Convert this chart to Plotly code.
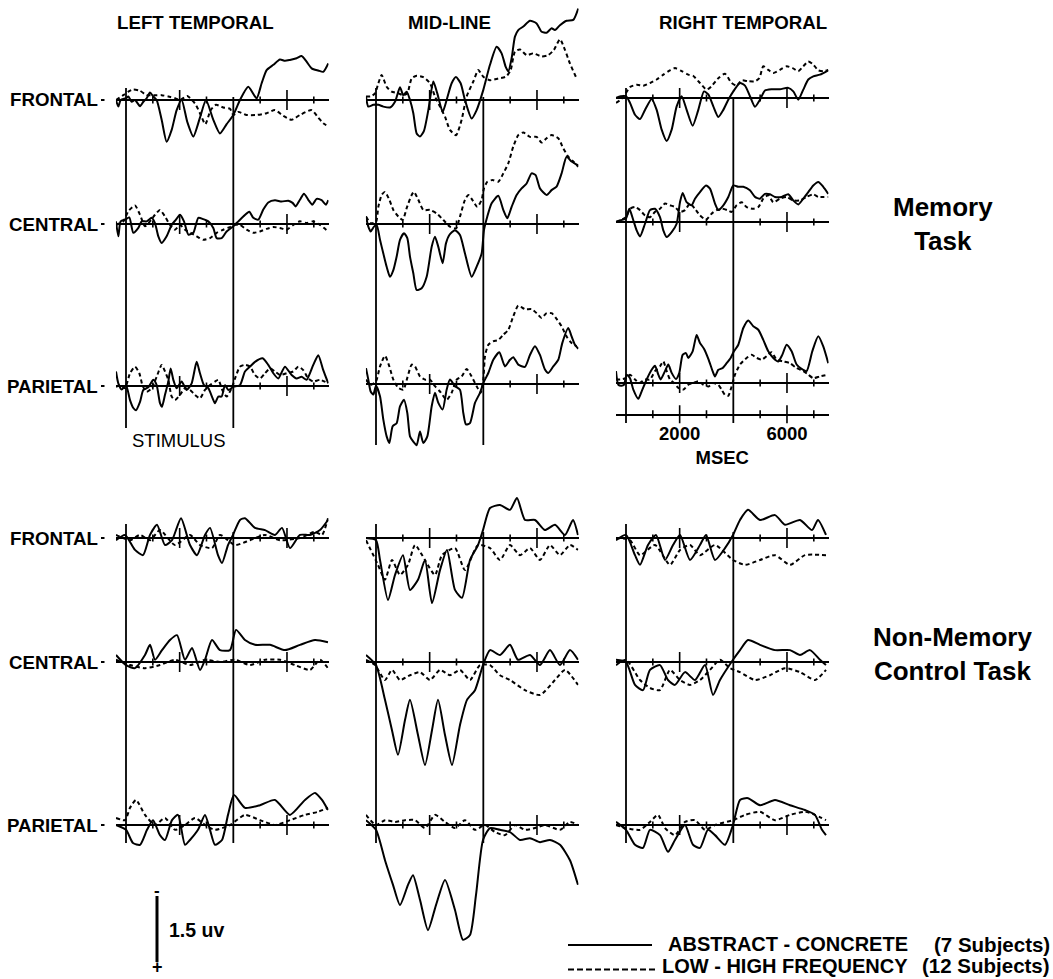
import plotly.graph_objects as go

# ---------------------------------------------------------------------------
# Figure geometry
# ---------------------------------------------------------------------------
W, H = 1053, 979
PX_PER_UV = 44.0          # vertical scale of every panel (negative up)
PX_PER_MS = 0.02683       # horizontal scale of every panel
T_MIN, T_MAX = -375, 7550
FONT = "Liberation Sans, Arial, sans-serif"

COLUMN_TITLES = ["LEFT TEMPORAL", "MID-LINE", "RIGHT TEMPORAL"]
SITE_LABELS = ["FRONTAL", "CENTRAL", "PARIETAL"]
TASK_LABELS = ["Memory<br>Task", "Non-Memory<br>Control Task"]
MAJOR_TICKS_MS = [2000, 6000]
MINOR_TICKS_MS = [1000, 3000, 5000, 7000]
EVENT_MS = [0, 4000]
SCALE_UV = 1.5
LEGEND_NAMES = ["ABSTRACT - CONCRETE", "LOW - HIGH FREQUENCY"]
LEGEND_N = ["(7 Subjects)", "(12 Subjects)"]

# ---------------------------------------------------------------------------
# Difference waveforms, (msec, microvolts).  AC = abstract - concrete,
# LH = low - high frequency.
# ---------------------------------------------------------------------------
MEM_LT_F_AC = [(-373,0),(-286,.15),(-199,0),(0,-.04),(87,-.08),(211,.04),(335,0),(522,.14),(646,.04),(770,-.04),(894,-.17),(1018,-.08),(1143,0),(1329,.45),(1515,.95),(1702,.68),(1888,.23),(2074,0),(2285,.5),(2509,.83),(2757,.4),(2981,0),(3254,.45),(3502,.76),(3751,.55),(4000,.34),(4248,0),(4558,-.3),(4869,-.04),(5055,-.38),(5241,-.68),(5490,-.8),(5738,-.92),(5924,-.89),(6110,-.91),(6359,-.95),(6545,-1.0),(6731,-.87),(6918,-.72),(7166,-.67),(7352,-.64),(7539,-.83)]
MEM_LT_F_LH = [(-373,0),(-99,-.11),(87,-.19),(273,-.24),(522,-.21),(770,-.11),(1080,-.11),(1329,-.11),(1577,-.08),(1826,-.04),(2012,0),(2285,-.09),(2571,.08),(2757,.3),(2956,.55),(3155,.23),(3353,.11),(3627,.17),(3875,.2),(4000,.34),(4186,.27),(4496,.34),(4869,.34),(5241,.3),(5552,.23),(5862,.36),(6173,.45),(6483,.34),(6918,.23),(7166,.4),(7352,.53),(7539,.6)]
MEM_ML_F_AC = [(-373,-.08),(-286,.15),(-99,.11),(87,.11),(273,.15),(522,.17),(708,.04),(894,-.29),(1018,-.11),(1143,-.19),(1267,0),(1391,.3),(1515,.76),(1639,.83),(1788,.7),(1950,.23),(2136,-.42),(2285,-.15),(2484,.27),(2633,0),(2819,-.38),(2981,-.52),(3155,-.38),(3316,0),(3565,.42),(3751,.23),(4000,-.23),(4248,-.8),(4496,-1.21),(4682,-1.06),(4831,-.76),(4931,-.65),(5055,-.95),(5179,-1.44),(5303,-1.59),(5490,-1.67),(5738,-1.8),(5986,-1.74),(6173,-1.55),(6359,-1.53),(6545,-1.63),(6669,-1.59),(6856,-1.7),(7104,-1.8),(7352,-1.82),(7539,-2.08)]
MEM_ML_F_LH = [(-373,-.08),(-199,-.08),(-37,-.15),(87,-.38),(211,-.57),(397,-.3),(584,-.19),(832,-.15),(1018,-.11),(1167,-.15),(1329,-.49),(1515,-.55),(1764,-.52),(2012,-.38),(2198,-.08),(2385,.15),(2571,.38),(2757,.68),(2981,.8),(3192,.45),(3378,-.08),(3627,-.42),(3813,-.68),(4000,-.53),(4248,-.45),(4558,-.49),(4844,-.53),(5018,-.68),(5179,-1.1),(5365,-1.15),(5614,-1.02),(5862,-1.06),(6173,-.99),(6421,-1.02),(6632,-1.14),(6856,-1.38),(7042,-1.14),(7228,-.83),(7477,-.49)]
MEM_RT_F_AC = [(-373,0),(-199,-.04),(0,-.04),(149,.11),(335,.38),(522,.48),(708,.27),(956,.02),(1143,.27),(1329,.72),(1515,.98),(1702,.72),(1888,.19),(2074,-.04),(2260,.27),(2484,.63),(2695,.27),(2906,-.15),(3068,-.08),(3254,.19),(3440,.43),(3627,.27),(3813,.04),(4000,-.15),(4248,-.34),(4434,-.28),(4620,-.04),(4807,.2),(4993,.04),(5179,-.17),(5427,-.2),(5738,-.2),(6048,-.23),(6235,-.15),(6421,.04),(6607,-.19),(6794,-.42),(6980,-.49),(7228,-.53),(7539,-.63)]
MEM_RT_F_LH = [(-373,.11),(-199,.04),(-37,-.08),(149,-.25),(397,-.3),(646,-.28),(894,-.34),(1143,-.42),(1391,-.53),(1639,-.63),(1826,-.68),(2074,-.61),(2323,-.53),(2509,-.5),(2757,-.34),(3006,-.19),(3192,-.27),(3440,-.45),(3689,-.55),(3937,-.34),(4123,-.28),(4310,-.4),(4558,-.38),(4807,-.38),(4968,-.45),(5117,-.72),(5303,-.64),(5490,-.57),(5738,-.64),(5986,-.72),(6210,-.68),(6421,-.61),(6607,-.72),(6794,-.83),(6980,-.76),(7166,-.63),(7352,-.61),(7539,-.64)]

MEM_LT_C_AC = [(-373,-.06),(-286,.28),(-199,-.06),(0,-.11),(124,-.15),(273,.2),(460,.09),(584,-.06),(770,-.06),(956,-.14),(1080,-.02),(1205,.28),(1329,.43),(1515,.28),(1702,.02),(1863,-.1),(2012,-.21),(2161,-.06),(2323,.24),(2509,.2),(2695,-.14),(2881,-.11),(3068,-.06),(3254,.09),(3378,.32),(3565,.32),(3751,.17),(4000,.05),(4186,-.06),(4372,-.17),(4595,-.28),(4744,-.14),(4931,-.1),(5117,-.33),(5303,-.49),(5552,-.54),(5800,-.51),(6048,-.53),(6210,-.48),(6322,-.4),(6483,-.55),(6632,-.69),(6794,-.55),(6943,-.44),(7104,-.57),(7290,-.54),(7452,-.44),(7539,-.54)]
MEM_LT_C_LH = [(-373,.02),(-99,-.06),(87,-.29),(335,-.42),(522,-.21),(708,.05),(894,-.06),(1080,-.21),(1267,-.32),(1453,-.17),(1639,.02),(1826,.13),(2012,.02),(2198,.13),(2409,.2),(2633,.28),(2881,.36),(3130,.32),(3378,.2),(3627,.13),(3875,.07),(4062,.02),(4248,.02),(4496,.13),(4744,.2),(4993,.17),(5241,.11),(5490,.07),(5738,.09),(5986,.13),(6235,.02),(6483,-.06),(6731,-.02),(6980,-.06),(7228,.02),(7539,.17)]
MEM_ML_C_AC = [(-373,-.17),(-286,.06),(-199,.17),(-75,.06),(25,.02),(149,.36),(273,.67),(397,.97),(522,1.2),(646,1.05),(770,.74),(894,.36),(1043,.21),(1167,.32),(1267,.74),(1391,1.12),(1515,1.5),(1702,1.46),(1888,1.2),(2074,.52),(2198,.29),(2323,.52),(2484,.89),(2608,.44),(2733,.25),(2943,.14),(3130,.25),(3316,.67),(3565,1.2),(3751,.97),(3937,.67),(4024,.14),(4149,-.17),(4310,-.47),(4558,-.64),(4744,-.32),(4893,-.13),(5055,-.39),(5241,-.66),(5427,-.81),(5614,-.92),(5800,-1.15),(5949,-1.11),(6110,-.81),(6359,-.66),(6545,-.77),(6731,-.85),(6918,-1.15),(7104,-1.53),(7290,-1.42),(7539,-1.33)]
MEM_ML_C_LH = [(-373,-.17),(-199,-.02),(0,-.05),(87,-.39),(211,-.66),(335,-.73),(497,-.55),(646,-.32),(832,-.17),(994,-.09),(1143,-.36),(1329,-.66),(1416,-.73),(1577,-.55),(1764,-.32),(2012,-.32),(2260,-.24),(2509,-.09),(2757,.06),(2981,.1),(3130,-.17),(3316,-.55),(3440,-.66),(3589,-.55),(3776,-.39),(3937,-.55),(4024,-.81),(4149,-.96),(4348,-1.0),(4558,-.96),(4744,-1.15),(4931,-1.38),(5117,-1.76),(5303,-2.02),(5490,-2.08),(5738,-1.98),(5986,-1.98),(6173,-1.85),(6359,-1.95),(6545,-2.02),(6794,-1.95),(6980,-1.72),(7166,-1.53),(7352,-1.42),(7539,-1.3)]
MEM_RT_C_AC = [(-373,0),(-199,-.04),(0,-.08),(124,-.3),(273,-.04),(397,.19),(522,.33),(708,.04),(894,-.27),(1080,-.3),(1267,-.11),(1391,.19),(1515,.34),(1702,.23),(1888,.04),(2012,-.45),(2111,-.66),(2260,-.45),(2447,-.38),(2571,-.53),(2757,-.68),(2981,-.83),(3130,-.76),(3316,-.42),(3440,-.27),(3627,-.38),(3813,-.57),(4000,-.83),(4186,-.8),(4372,-.8),(4620,-.72),(4807,-.57),(4993,-.53),(5179,-.64),(5365,-.63),(5552,-.57),(5800,-.57),(6048,-.63),(6235,-.49),(6421,-.4),(6607,-.53),(6794,-.68),(6980,-.83),(7166,-.91),(7352,-.8),(7539,-.64)]
MEM_RT_C_LH = [(-373,0),(-199,-.04),(0,-.11),(149,-.3),(335,-.34),(522,-.27),(708,-.15),(894,-.11),(1080,-.23),(1267,-.3),(1453,-.42),(1639,-.38),(1826,-.34),(2012,-.23),(2198,-.27),(2385,-.42),(2571,-.3),(2757,-.15),(2981,-.05),(3192,-.19),(3378,-.27),(3589,-.3),(3776,-.27),(3937,-.23),(4123,-.38),(4310,-.45),(4496,-.34),(4744,-.3),(4931,-.34),(5117,-.53),(5303,-.61),(5490,-.45),(5738,-.53),(5986,-.57),(6235,-.49),(6483,-.49),(6731,-.57),(6980,-.63),(7166,-.57),(7539,-.57)]

MEM_LT_P_AC = [(-373,-.33),(-286,-.06),(-161,.08),(0,-.02),(149,.32),(273,.5),(373,.55),(522,.36),(646,.09),(832,.03),(1018,-.14),(1143,-.02),(1267,.39),(1341,.47),(1453,.2),(1577,-.1),(1664,-.4),(1764,-.14),(1888,.05),(2074,-.1),(2260,.09),(2447,-.06),(2633,-.55),(2757,-.29),(2906,-.02),(3068,.05),(3229,.28),(3316,.39),(3440,.24),(3565,.24),(3689,-.02),(3813,.09),(4000,.02),(4248,-.02),(4434,-.33),(4620,-.44),(4807,-.55),(5092,-.63),(5303,-.48),(5490,-.29),(5676,-.17),(5924,-.44),(6173,-.25),(6359,-.17),(6545,-.21),(6731,-.14),(6980,-.48),(7166,-.7),(7352,-.36),(7539,-.06)]
MEM_LT_P_LH = [(-373,.02),(-199,-.02),(-37,.05),(149,-.29),(335,-.44),(497,-.29),(621,0),(770,.13),(956,.05),(1143,-.21),(1329,-.48),(1453,-.33),(1577,-.14),(1702,.24),(1826,.32),(2012,.2),(2198,.05),(2385,.09),(2571,.2),(2757,.28),(2943,.09),(3130,-.02),(3316,-.1),(3440,-.14),(3589,.09),(3751,.24),(3937,.05),(4062,-.17),(4248,-.44),(4434,-.48),(4620,-.44),(4807,-.25),(4993,-.17),(5179,-.29),(5365,-.4),(5552,-.33),(5738,-.25),(5986,-.29),(6235,-.33),(6421,-.44),(6607,-.36),(6794,-.17),(6980,-.1),(7228,-.14),(7539,-.06)]
MEM_ML_P_AC = [(-373,-.36),(-286,-.1),(-199,.17),(-99,.24),(0,.04),(149,.28),(273,.81),(397,1.19),(497,1.34),(621,.96),(770,.89),(894,.51),(1043,.36),(1167,.66),(1267,1.19),(1391,1.31),(1515,1.39),(1639,1.08),(1764,1.34),(1913,1.19),(2074,.51),(2198,.2),(2323,.43),(2484,.58),(2633,.13),(2757,-.1),(2943,.05),(3130,.13),(3254,.66),(3353,.92),(3502,.89),(3689,.43),(3875,.2),(4000,-.02),(4186,-.25),(4372,-.55),(4595,-.72),(4807,-.4),(4993,-.55),(5117,-.61),(5303,-.44),(5552,-.39),(5738,-.66),(5924,-.86),(6110,-.66),(6297,-.33),(6421,-.25),(6607,-.4),(6794,-.55),(6943,-.93),(7166,-1.27),(7290,-1.08),(7414,-.89),(7539,-.8)]
MEM_ML_P_LH = [(-373,-.1),(-199,.02),(0,-.06),(149,-.4),(335,-.64),(497,-.4),(646,-.1),(832,.09),(1018,.13),(1167,-.14),(1329,-.44),(1453,-.4),(1639,-.17),(1826,-.1),(2012,-.1),(2198,.05),(2385,.17),(2633,.36),(2819,.2),(3006,-.1),(3192,-.17),(3378,-.34),(3565,-.17),(3751,.05),(3900,.2),(4000,-.1),(4062,-.63),(4186,-.89),(4372,-.97),(4558,-1.0),(4744,-1.12),(4931,-1.23),(5117,-1.54),(5303,-1.78),(5552,-1.7),(5800,-1.7),(5986,-1.61),(6173,-1.5),(6359,-1.61),(6545,-1.61),(6731,-1.48),(6918,-1.31),(7104,-1.08),(7290,-.93),(7477,-.86)]
MEM_RT_P_AC = [(-373,-.27),(-286,.04),(-161,.06),(-75,.04),(25,-.19),(149,-.11),(273,.15),(460,.36),(584,.19),(770,-.08),(956,-.3),(1080,-.39),(1205,-.19),(1292,-.08),(1453,-.27),(1577,-.42),(1702,-.23),(1863,-.09),(1987,-.23),(2111,-.64),(2236,-.68),(2323,-.57),(2484,-.72),(2633,-1.09),(2757,-.91),(2906,-.78),(3068,-.55),(3229,-.27),(3316,-.15),(3440,-.3),(3602,-.34),(3751,-.45),(3900,-.57),(4024,-.72),(4186,-.87),(4372,-1.25),(4558,-1.42),(4744,-1.29),(4931,-1.21),(5117,-.98),(5303,-.72),(5490,-.57),(5676,-.49),(5825,-.64),(5986,-.87),(6173,-.72),(6359,-.42),(6545,-.32),(6731,-.27),(6943,-.72),(7166,-1.06),(7352,-.83),(7539,-.45)]
MEM_RT_P_LH = [(-373,-.08),(-199,-.08),(0,-.11),(149,-.19),(335,-.08),(497,0),(708,-.08),(894,-.08),(1080,-.27),(1267,-.38),(1391,-.49),(1515,-.27),(1639,-.08),(1788,0),(1950,.11),(2136,.15),(2323,.04),(2509,0),(2695,-.04),(2881,.04),(3068,.08),(3254,0),(3440,.04),(3565,.15),(3689,.27),(3813,.29),(3937,.08),(4062,-.19),(4248,-.42),(4496,-.57),(4682,-.64),(4869,-.57),(5055,-.53),(5241,-.61),(5427,-.7),(5614,-.53),(5862,-.49),(6110,-.45),(6359,-.34),(6607,-.27),(6794,-.19),(6980,-.11),(7228,-.15),(7539,-.19)]

NM_LT_F_AC = [(-373,.05),(-37,-.07),(335,.27),(634,.39),(895,-.07),(1155,-.3),(1454,.16),(1714,.05),(2050,-.45),(2385,.16),(2646,.39),(2944,-.07),(3131,-.23),(3429,.39),(3578,.57),(3802,.16),(3988,-.07),(4249,-.41),(4435,-.45),(4808,-.23),(5181,-.18),(5553,-.07),(5814,-.23),(6112,.23),(6485,-.07),(6857,-.07),(7230,-.18),(7528,-.41)]
NM_LT_F_LH = [(-373,-.07),(149,.05),(522,-.07),(895,.05),(1267,-.18),(1826,.16),(2385,-.07),(2758,.16),(3205,.23),(3503,-.07),(4062,.16),(4622,.05),(5181,-.07),(5740,.05),(6485,0),(7044,-.14),(7305,-.07),(7528,-.45)]
NM_ML_F_AC = [(-373,0),(0,.05),(149,.5),(447,1.41),(708,.84),(1006,.39),(1267,1.18),(1565,.95),(1826,.5),(2087,1.48),(2385,.73),(2646,.27),(2944,1.18),(3205,1.36),(3503,.5),(3802,.16),(3988,-.18),(4249,-.68),(4621,-.75),(4994,-.64),(5255,-.91),(5553,-.41),(5926,-.41),(6299,-.18),(6672,-.3),(7044,-.07),(7342,-.41),(7528,-.07)]
NM_ML_F_LH = [(-373,.05),(75,.61),(335,.95),(596,.5),(894,.84),(1193,.61),(1454,.16),(1826,.5),(2199,.84),(2460,.39),(2944,.23),(3317,.73),(3802,.16),(4249,.23),(4621,.5),(4994,.16),(5367,.39),(5740,.23),(6112,.5),(6485,.16),(6858,.39),(7230,.16),(7528,.27)]
NM_RT_F_AC = [(-373,.05),(0,-.07),(335,.39),(522,.61),(820,.16),(1118,-.07),(1454,.5),(1752,.16),(2013,-.07),(2385,.5),(2758,.16),(2982,-.07),(3317,.5),(3690,.23),(3988,-.07),(4249,-.41),(4547,-.64),(4994,-.41),(5553,-.52),(5926,-.3),(6485,-.41),(6932,-.18),(7156,-.41),(7454,-.07)]
NM_RT_F_LH = [(-373,0),(149,.05),(522,.39),(1081,.16),(1640,.61),(2013,.27),(2385,.16),(2758,.39),(3317,.16),(3988,.5),(4435,.61),(4994,.5),(5553,.39),(6112,.61),(6671,.39),(7454,.39)]

NM_LT_C_AC = [(-373,-.16),(0,.07),(335,.14),(708,-.16),(895,-.39),(1081,-.05),(1342,-.27),(1640,-.5),(1901,-.61),(2199,-.05),(2460,-.32),(2758,.18),(2944,-.05),(3205,-.5),(3503,-.27),(3876,-.27),(4100,-.73),(4435,-.5),(4808,-.39),(5367,-.39),(5926,-.27),(6485,-.39),(7044,-.5),(7528,-.45)]
NM_LT_C_LH = [(-373,-.05),(149,.07),(708,.14),(1267,.07),(1826,-.05),(2385,.07),(2944,-.05),(3503,0),(4062,-.05),(4622,.07),(5181,-.05),(5740,-.05),(6299,.07),(6858,.18),(7230,-.05),(7528,.14)]
NM_ML_C_AC = [(-373,-.16),(0,.07),(335,.86),(596,1.55),(820,2.11),(1081,1.32),(1267,.86),(1565,1.66),(1826,2.34),(2087,1.55),(2311,.86),(2572,1.66),(2833,2.34),(3131,1.43),(3392,.86),(3690,.64),(3988,.07),(4249,-.27),(4621,-.16),(4994,-.39),(5292,-.05),(5740,-.16),(6112,.07),(6485,-.27),(6858,.07),(7230,-.27),(7528,-.05)]
NM_ML_C_LH = [(-373,-.05),(-37,.07),(335,.41),(596,.18),(894,.41),(1267,.3),(1640,.23),(2013,.41),(2385,.18),(2758,.3),(3131,.18),(3503,.41),(3876,.07),(4249,.07),(4621,.3),(4994,.41),(5553,.64),(6112,.75),(6671,.41),(7044,.18),(7528,.52)]
NM_RT_C_AC = [(-373,-.05),(0,0),(335,.52),(634,.64),(894,.18),(1267,.07),(1565,.41),(1826,.52),(2199,.23),(2572,.41),(2944,.07),(3243,.75),(3503,.41),(3988,-.05),(4249,-.27),(4547,-.5),(4994,-.39),(5553,-.27),(6112,-.27),(6485,-.16),(6858,-.27),(7230,-.05),(7454,.07)]
NM_RT_C_LH = [(-373,.07),(0,-.05),(522,.41),(894,.59),(1267,.64),(1640,.18),(2013,.41),(2385,.52),(2758,.41),(3131,.18),(3503,-.05),(3876,.14),(4249,.23),(4808,.41),(5367,.3),(5926,.14),(6485,.23),(7044,.41),(7454,.18)]

NM_LT_P_AC = [(-373,0),(0,.11),(261,.41),(522,.45),(783,.11),(1006,-.11),(1267,.23),(1454,.34),(1714,-.11),(1938,-.23),(2199,.45),(2385,.34),(2683,.11),(2944,-.23),(3131,.11),(3317,.45),(3578,.34),(3802,-.23),(4025,-.68),(4435,-.39),(4994,-.45),(5553,-.57),(6112,-.23),(6671,-.57),(7044,-.73),(7305,-.57),(7528,-.34)]
NM_LT_P_LH = [(-373,-.16),(-37,-.11),(149,-.39),(373,-.57),(708,-.23),(1081,0),(1454,-.16),(1826,.11),(2199,0),(2572,-.16),(2944,0),(3317,.11),(3876,0),(4435,-.23),(4994,-.11),(5553,0),(6112,-.11),(6671,-.23),(7156,-.3),(7528,-.39)]
NM_ML_P_AC = [(-373,-.11),(0,.11),(335,.8),(634,1.36),(894,1.82),(1193,1.36),(1379,1.14),(1640,1.7),(1938,2.39),(2236,1.82),(2572,1.25),(2944,1.93),(3243,2.61),(3503,2.5),(3727,1.59),(3988,.34),(4249,.07),(4621,.11),(4994,.16),(5367,.34),(5740,.3),(6112,.39),(6485,.34),(6858,.45),(7230,.8),(7528,1.36)]
NM_ML_P_LH = [(-373,-.23),(0,0),(335,-.11),(708,-.07),(1081,-.11),(1454,-.11),(1826,.07),(2199,-.23),(2572,-.07),(2944,.07),(3317,-.11),(3690,.11),(4062,0),(4435,.16),(4808,.23),(5181,0),(5553,.11),(5926,.07),(6299,0),(6858,.11),(7230,-.07),(7528,0)]
NM_RT_P_AC = [(-373,-.07),(0,.11),(335,.45),(634,.52),(894,.11),(1267,.23),(1565,.61),(1826,.34),(2199,0),(2497,.45),(2758,.52),(3056,.11),(3317,.23),(3690,.45),(3988,0),(4249,-.57),(4547,-.61),(4994,-.45),(5553,-.57),(6112,-.45),(6671,-.34),(7044,-.23),(7305,.11),(7454,.23)]
NM_RT_P_LH = [(-373,0),(0,.07),(522,.11),(894,-.07),(1193,-.23),(1454,.07),(1826,.23),(2199,-.07),(2572,-.11),(2944,.11),(3317,0),(3988,-.11),(4435,-.23),(4994,-.3),(5553,-.11),(6112,-.23),(6671,-.3),(7044,-.23),(7454,-.11)]

WAVES = {
    ("mem", 0): [(MEM_LT_F_AC, MEM_LT_F_LH), (MEM_LT_C_AC, MEM_LT_C_LH), (MEM_LT_P_AC, MEM_LT_P_LH)],
    ("mem", 1): [(MEM_ML_F_AC, MEM_ML_F_LH), (MEM_ML_C_AC, MEM_ML_C_LH), (MEM_ML_P_AC, MEM_ML_P_LH)],
    ("mem", 2): [(MEM_RT_F_AC, MEM_RT_F_LH), (MEM_RT_C_AC, MEM_RT_C_LH), (MEM_RT_P_AC, MEM_RT_P_LH)],
    ("nm", 0): [(NM_LT_F_AC, NM_LT_F_LH), (NM_LT_C_AC, NM_LT_C_LH), (NM_LT_P_AC, NM_LT_P_LH)],
    ("nm", 1): [(NM_ML_F_AC, NM_ML_F_LH), (NM_ML_C_AC, NM_ML_C_LH), (NM_ML_P_AC, NM_ML_P_LH)],
    ("nm", 2): [(NM_RT_F_AC, NM_RT_F_LH), (NM_RT_C_AC, NM_RT_C_LH), (NM_RT_P_AC, NM_RT_P_LH)],
}

# ---------------------------------------------------------------------------
# Panel placement (pixels)
# ---------------------------------------------------------------------------
COL_T0_PX = [126, 376, 626]
BASELINE_PX = {
    ("mem", 0): [100, 224, 386], ("mem", 1): [100, 224, 384], ("mem", 2): [98, 222, 383],
    ("nm", 0): [538, 662, 825], ("nm", 1): [538, 662, 825], ("nm", 2): [538, 662, 825],
}
# onset line top, stimulus line top, common bottom
EVENT_LINE_PX = {
    ("mem", 0): (88, 97, 428), ("mem", 1): (88, 97, 445), ("mem", 2): (88, 97, 423),
    ("nm", 0): (524, 532, 843), ("nm", 1): (524, 532, 843), ("nm", 2): (524, 532, 843),
}
TIME_AXIS_PX = 414.3       # separate time scale under the right temporal memory panels
HALF_BAND_PX = 135
LABEL_SIZE = 18.7


def py(p):
    return 1 - p / H


def px(p):
    return p / W


def text_font(size):
    return dict(family=FONT, size=size, color="black")


fig = go.Figure()
layout = {}
shapes = []
annotations = []

k = 0
for task in ("mem", "nm"):
    for col in range(3):
        t0 = COL_T0_PX[col]
        first_xid = None
        for site in range(3):
            k += 1
            xid = "x" if k == 1 else f"x{k}"
            yid = "y" if k == 1 else f"y{k}"
            if first_xid is None:
                first_xid = xid
            base = BASELINE_PX[(task, col)][site]
            top = max(0.0, base - HALF_BAND_PX)
            bot = min(float(H), base + HALF_BAND_PX)
            with_time_axis = (task == "mem" and col == 2 and site == 2)
            if with_time_axis:
                bot = TIME_AXIS_PX

            xaxis = dict(
                domain=[px(t0 + T_MIN * PX_PER_MS), px(t0 + T_MAX * PX_PER_MS)],
                range=[T_MIN, T_MAX], anchor=yid, showgrid=False, zeroline=False,
                visible=with_time_axis,
            )
            if with_time_axis:
                xaxis.update(
                    showline=True, linewidth=2, linecolor="black",
                    ticks="outside", ticklen=1, tickcolor="rgba(0,0,0,0)",
                    tickvals=MAJOR_TICKS_MS, ticktext=[str(v) for v in MAJOR_TICKS_MS],
                    tickfont=dict(family=FONT, size=18.5, color="black", weight="bold"),
                    title=dict(text="MSEC", standoff=9,
                               font=dict(family=FONT, size=18.5, color="black", weight="bold")),
                )
            yaxis = dict(
                domain=[py(bot), py(top)],
                range=[(bot - base) / PX_PER_UV, (top - base) / PX_PER_UV],
                anchor=xid, showgrid=False, showticklabels=False, showline=False,
                ticks="", zeroline=True, zerolinecolor="black", zerolinewidth=2,
            )
            layout["xaxis" if k == 1 else f"xaxis{k}"] = xaxis
            layout["yaxis" if k == 1 else f"yaxis{k}"] = yaxis

            ac, lh = WAVES[(task, col)][site]
            for wave, dash in ((lh, "4px,3px"), (ac, "solid")):
                fig.add_trace(go.Scatter(
                    x=[p[0] for p in wave], y=[p[1] for p in wave],
                    xaxis=xid, yaxis=yid, mode="lines", hoverinfo="skip",
                    line=dict(color="black", width=2, dash=dash,
                              shape="spline", smoothing=0.6),
                    showlegend=False,
                ))

            # tick marks on the baseline
            for t in MINOR_TICKS_MS + MAJOR_TICKS_MS:
                half = (10 if t in MAJOR_TICKS_MS else 3.5) / PX_PER_UV
                shapes.append(dict(type="line", xref=xid, yref=yid, x0=t, x1=t,
                                   y0=-half, y1=half, line=dict(color="black", width=1.6)))
            if with_time_axis:
                for t in MINOR_TICKS_MS + MAJOR_TICKS_MS:
                    h = 9 if t in MAJOR_TICKS_MS else 4
                    shapes.append(dict(type="line", xref=xid, yref="paper", x0=t, x1=t,
                                       y0=py(TIME_AXIS_PX + h), y1=py(TIME_AXIS_PX - h),
                                       line=dict(color="black", width=1.6)))

            if col == 0:
                annotations.append(dict(
                    text=f"<b>{SITE_LABELS[site]}</b>", xref="paper", yref="paper",
                    x=px(100), y=py(base), xanchor="right", yanchor="middle",
                    showarrow=False, font=text_font(LABEL_SIZE)))
                # short lead-in mark after the site label
                shapes.append(dict(type="line", xref="paper", yref="paper",
                                   x0=px(101), x1=px(104.5), y0=py(base), y1=py(base),
                                   line=dict(color="black", width=2)))

        # onset and stimulus lines spanning the three sites
        on_top, st_top, bottom = EVENT_LINE_PX[(task, col)]
        for t, top_px in zip(EVENT_MS, (on_top, st_top)):
            shapes.append(dict(type="line", xref=first_xid, yref="paper", x0=t, x1=t,
                               y0=py(bottom), y1=py(top_px),
                               line=dict(color="black", width=1.8)))

# column titles
for title, cx in zip(COLUMN_TITLES, (195, 449, 743)):
    annotations.append(dict(text=f"<b>{title}</b>", xref="paper", yref="paper",
                            x=px(cx), y=py(23), xanchor="center", yanchor="middle",
                            showarrow=False, font=text_font(LABEL_SIZE)))

annotations.append(dict(text="STIMULUS", xref="paper", yref="paper", x=px(179), y=py(440),
                        xanchor="center", yanchor="middle", showarrow=False,
                        font=text_font(18.5)))

for label, cx, cy in zip(TASK_LABELS, (943, 952), (224, 654)):
    annotations.append(dict(text=f"<b>{label}</b>", xref="paper", yref="paper",
                            x=px(cx), y=py(cy), xanchor="center", yanchor="middle",
                            showarrow=False, font=text_font(26)))

# amplitude scale bar on its own axis pair with the panel scale
SB = 19
sb_top, sb_bot, sb_zero = 884, 976, 896
layout[f"xaxis{SB}"] = dict(domain=[px(150), px(164)], range=[0, 1], visible=False, anchor=f"y{SB}")
layout[f"yaxis{SB}"] = dict(domain=[py(sb_bot), py(sb_top)],
                            range=[(sb_bot - sb_zero) / PX_PER_UV, (sb_top - sb_zero) / PX_PER_UV],
                            visible=False, anchor=f"x{SB}")
fig.add_trace(go.Scatter(x=[0.5, 0.5], y=[0, SCALE_UV], xaxis=f"x{SB}", yaxis=f"y{SB}",
                         mode="lines", line=dict(color="black", width=3),
                         hoverinfo="skip", showlegend=False))
annotations.append(dict(text="<b>-</b>", xref=f"x{SB}", yref=f"y{SB}", x=0.5, y=0,
                        yanchor="bottom", yshift=-6, showarrow=False, font=text_font(17)))
annotations.append(dict(text="<b>+</b>", xref=f"x{SB}", yref="paper", x=0.5, y=0,
                        yanchor="bottom", showarrow=False, font=text_font(18)))
annotations.append(dict(text=f"<b>{SCALE_UV} uv</b>", xref="paper", yref="paper",
                        x=px(167), y=py(930), xanchor="left", yanchor="middle",
                        showarrow=False, font=text_font(19.5)))

# legend: line samples, names and group sizes
LEGEND_LINE_PX = (945, 969.5)
for i, (name, n) in enumerate(zip(LEGEND_NAMES, LEGEND_N)):
    ly = LEGEND_LINE_PX[i]
    shapes.append(dict(type="line", xref="paper", yref="paper", x0=px(568), x1=px(652 if i == 0 else 656),
                       y0=py(ly), y1=py(ly),
                       line=dict(color="black", width=2, dash="solid" if i == 0 else "6px,3px")))
    if i == 0:
        pos = dict(y=py(944), yanchor="middle")
    else:
        pos = dict(y=0, yanchor="bottom")
    annotations.append(dict(text=f"<b>{name}</b>", xref="paper", yref="paper",
                            x=px(666 if i == 0 else 660), xanchor="left",
                            showarrow=False, font=text_font(20), **pos))
    annotations.append(dict(text=f"<b>{n}</b>", xref="paper", yref="paper",
                            x=px(1052), xanchor="right",
                            showarrow=False, font=text_font(20.5), **pos))

fig.update_layout(
    width=W, height=H, margin=dict(l=0, r=0, t=0, b=0),
    paper_bgcolor="white", plot_bgcolor="rgba(0,0,0,0)",
    showlegend=False, shapes=shapes, annotations=annotations,
    font=dict(family=FONT, color="black"),
    **layout,
)
fig.write_html("out.html")
